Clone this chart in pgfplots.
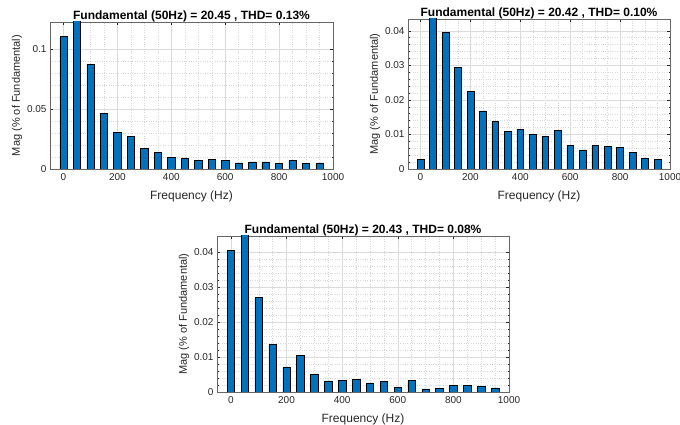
\documentclass[border=0pt]{standalone}
\usepackage{pgfplots}
\pgfplotsset{compat=1.18}
\usepackage{fontspec}
\setmainfont{Liberation Sans}

\definecolor{barblue}{RGB}{0,114,189}
\definecolor{axgray}{RGB}{38,38,38}

\pgfplotsset{
  fftbars/.style={
    scale only axis, anchor=south west,
    ybar, bar width=27,
    xmin=-50, xmax=1000,
    xtick={0,200,...,1000},
    minor x tick num=3,
    minor y tick num=4,
    ymin=0,
    grid=both,
    major grid style={gray!28, line width=0.4pt},
    minor grid style={gray!30, line width=0.35pt, dotted},
    tick align=inside,
    major tick length=3pt, minor tick length=1.5pt,
    every tick/.style={axgray, line width=0.4pt},
    axis line style={axgray!70, line width=0.5pt},
    /pgf/number format/assume math mode=true,
    /pgf/number format/1000 sep={},
    tick label style={font=\fontsize{10}{12}\selectfont, color=axgray},
    xticklabel style={yshift=-1pt},
    xlabel={Frequency (Hz)},
    ylabel={Mag (\% of Fundamental)},
    xlabel style={font=\fontsize{12}{14}\selectfont, color=axgray, yshift=-3pt},
    ylabel style={font=\fontsize{11}{13}\selectfont, color=axgray, yshift=-2pt},
    title style={font=\bfseries\fontsize{12}{14}\selectfont, yshift=-10pt},
    scaled y ticks=false,
  },
  fftfill/.style={fill=barblue, draw=black, line width=0.5pt},
}

\begin{document}
\begin{tikzpicture}
\useasboundingbox (0pt,0pt) rectangle (680pt,425pt);

% top left
\begin{axis}[fftbars, at={(50pt,256pt)}, width=283pt, height=147pt,
  ymax=0.123, ytick={0,0.05,0.1}, yticklabels={0,0.05,0.1},
  title={Fundamental (50Hz) = 20.45 , THD= 0.13\%}]
\addplot[fftfill] coordinates {
  (0,0.1107) (50,0.13) (100,0.0873) (150,0.0466) (200,0.0305)
  (250,0.0276) (300,0.0172) (350,0.0141) (400,0.0098) (450,0.0090)
  (500,0.0073) (550,0.0081) (600,0.0073) (650,0.0051) (700,0.0059)
  (750,0.0059) (800,0.0045) (850,0.0073) (900,0.0045) (950,0.0051)};
\end{axis}

% top right
\begin{axis}[fftbars, at={(408pt,256pt)}, width=262pt, height=150pt,
  ymax=0.0434, ytick={0,0.01,...,0.04}, yticklabels={0,0.01,0.02,0.03,0.04},
  title={Fundamental (50Hz) = 20.42 , THD= 0.10\%}]
\addplot[fftfill] coordinates {
  (0,0.0027) (50,0.05) (100,0.0395) (150,0.0295) (200,0.0225)
  (250,0.0168) (300,0.0138) (350,0.0108) (400,0.0115) (450,0.0101)
  (500,0.0095) (550,0.0112) (600,0.0068) (650,0.0055) (700,0.0068)
  (750,0.0066) (800,0.0063) (850,0.0049) (900,0.0030) (950,0.0027)};
\end{axis}

% bottom
\begin{axis}[fftbars, at={(217pt,33pt)}, width=292pt, height=156pt,
  ymax=0.0447, ytick={0,0.01,...,0.04}, yticklabels={0,0.01,0.02,0.03,0.04},
  title={Fundamental (50Hz) = 20.43 , THD= 0.08\%}]
\addplot[fftfill] coordinates {
  (0,0.0405) (50,0.05) (100,0.0271) (150,0.0137) (200,0.0072)
  (250,0.0104) (300,0.0051) (350,0.0032) (400,0.0034) (450,0.0036)
  (500,0.0026) (550,0.0031) (600,0.0014) (650,0.0034) (700,0.0009)
  (750,0.0011) (800,0.0019) (850,0.0019) (900,0.0016) (950,0.0012)};
\end{axis}
\end{tikzpicture}
\end{document}
